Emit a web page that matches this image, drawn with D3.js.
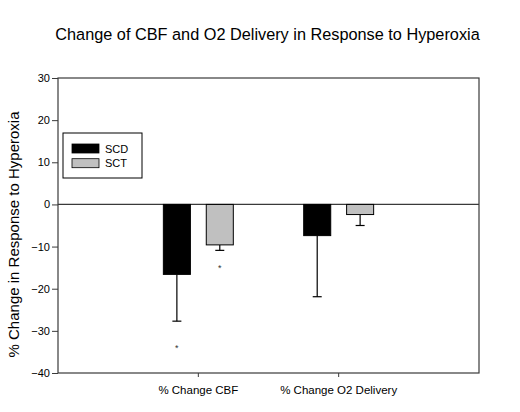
<!DOCTYPE html>
<html><head><meta charset="utf-8">
<script src="https://cdn.jsdelivr.net/npm/d3@7"></script>
<style>
html,body{margin:0;padding:0;background:#fff;}
svg{display:block;font-family:"Liberation Sans",Arial,sans-serif;}
</style></head>
<body>
<svg id="chart" width="520" height="412"></svg>
<script>
const categories = ["% Change CBF", "% Change O2 Delivery"];
const groups = ["SCD", "SCT"];
const scdValues = [-16.6, -7.4];
const scdErrors = [11.1, 14.5];
const sctValues = [-9.6, -2.4];
const sctErrors = [1.3, 2.6];
const scdStars = [-33.5, null];
const sctStars = [-14.6, null];
const yTicks = [30, 20, 10, 0, -10, -20, -30, -40];
const colors = {SCD: "#000000", SCT: "#c0c0c0"};

(function () {
const series = {
  SCD: {values: scdValues, errors: scdErrors, stars: scdStars},
  SCT: {values: sctValues, errors: sctErrors, stars: sctStars}
};

const svg = d3.select("#chart");
const pLeft = 58, pRight = 479, pTop = 78, pBottom = 373;
const frameColor = "#3a3a3a";

const y = d3.scaleLinear().domain([-40, 30]).range([pBottom, pTop]);
const x0 = d3.scaleBand().domain(categories).range([pLeft, pRight]).paddingInner(0).paddingOuter(0.5);
const x1 = d3.scaleBand().domain(groups).range([0, x0.bandwidth()]).paddingInner(0.37).paddingOuter(0.82);

// title
svg.append("text").attr("x", 267.5).attr("y", 39.5).attr("text-anchor", "middle")
  .attr("font-size", 16.3).attr("fill", "#000")
  .text("Change of CBF and O2 Delivery in Response to Hyperoxia");

// frame
svg.append("rect").attr("x", pLeft).attr("y", pTop).attr("width", pRight - pLeft).attr("height", pBottom - pTop)
  .attr("fill", "none").attr("stroke", frameColor).attr("stroke-width", 1.2);

// zero line
svg.append("line").attr("x1", pLeft).attr("x2", pRight).attr("y1", y(0)).attr("y2", y(0))
  .attr("stroke", frameColor).attr("stroke-width", 1.2);

// y axis
const yAxis = d3.axisLeft(y).tickValues(yTicks).tickSize(6).tickPadding(2).tickFormat(d3.format("d"));
const yg = svg.append("g").attr("transform", `translate(${pLeft},0)`).call(yAxis);
yg.select(".domain").remove();
yg.selectAll(".tick line").attr("stroke", frameColor);
yg.selectAll(".tick text").attr("font-size", 11).attr("fill", "#000").attr("font-family", "Liberation Sans, Arial, sans-serif");

// x axis
const xAxis = d3.axisBottom(x0).tickSize(4).tickPadding(9);
const xg = svg.append("g").attr("transform", `translate(0,${pBottom})`).call(xAxis);
xg.select(".domain").remove();
xg.selectAll(".tick line").attr("stroke", frameColor);
xg.selectAll(".tick text").attr("font-size", 11.5).attr("fill", "#000").attr("font-family", "Liberation Sans, Arial, sans-serif");

// y axis title
svg.append("text").attr("transform", `translate(18.5,234.5) rotate(-90)`)
  .attr("text-anchor", "middle").attr("font-size", 15).attr("fill", "#000")
  .text("% Change in Response to Hyperoxia");

// bars
const barData = [];
categories.forEach((c, i) => {
  groups.forEach(g => {
    barData.push({cat: c, group: g, value: series[g].values[i], err: series[g].errors[i], star: series[g].stars[i]});
  });
});

const gBars = svg.append("g");
const cx = d => x0(d.cat) + x1(d.group) + x1.bandwidth() / 2;

// error bars (downward)
gBars.selectAll(".err").data(barData).join("line").attr("class", "err")
  .attr("x1", cx).attr("x2", cx)
  .attr("y1", d => y(d.value)).attr("y2", d => y(d.value - d.err))
  .attr("stroke", "#000").attr("stroke-width", 1.2);
gBars.selectAll(".cap").data(barData).join("line").attr("class", "cap")
  .attr("x1", d => cx(d) - 4.5).attr("x2", d => cx(d) + 4.5)
  .attr("y1", d => y(d.value - d.err)).attr("y2", d => y(d.value - d.err))
  .attr("stroke", "#000").attr("stroke-width", 1.2);

gBars.selectAll(".bar").data(barData).join("rect").attr("class", "bar")
  .attr("x", d => x0(d.cat) + x1(d.group))
  .attr("width", x1.bandwidth())
  .attr("y", d => y(Math.max(0, d.value)))
  .attr("height", d => Math.abs(y(d.value) - y(0)))
  .attr("fill", d => colors[d.group]).attr("stroke", "#000").attr("stroke-width", 1);

gBars.selectAll(".star").data(barData.filter(d => d.star !== null)).join("text").attr("class", "star")
  .attr("x", cx).attr("y", d => y(d.star) + 5).attr("text-anchor", "middle")
  .attr("font-size", 9).attr("fill", "#333").text("*");

// legend
const lg = svg.append("g");
lg.append("rect").attr("x", 63).attr("y", 133).attr("width", 79).attr("height", 45)
  .attr("fill", "#fff").attr("stroke", "#000").attr("stroke-width", 1);
groups.forEach((g, i) => {
  const yy = 144 + i * 14.7;
  lg.append("rect").attr("x", 72).attr("y", yy).attr("width", 27).attr("height", 9)
    .attr("fill", colors[g]).attr("stroke", "#000").attr("stroke-width", 0.8);
  lg.append("text").attr("x", 105).attr("y", yy + 8.5).attr("font-size", 11).attr("fill", "#000").text(g);
});
})();
</script>
</body></html>
